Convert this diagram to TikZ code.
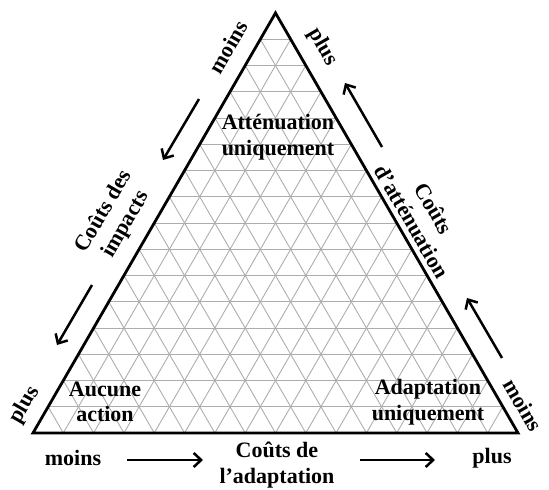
\documentclass[tikz,border=0pt]{standalone}
\usepackage{fontspec}
\setmainfont{Liberation Serif}
\usetikzlibrary{calc,arrows.meta}
\begin{document}
\begin{tikzpicture}[x=1pt,y=1pt,
  lbl/.style={font=\fontsize{22}{25.5}\selectfont\bfseries, align=center, inner sep=0pt},
  edgeline/.style={line width=2.8pt, line join=miter},
  gridline/.style={draw=black!32, line width=0.9pt},
  arr/.style={line width=2.5pt, -{Straight Barb[length=7.5pt,width=14pt]}}]
\useasboundingbox (0,0) rectangle (549,490);
\coordinate (A) at (33,57);
\coordinate (B) at (518,57);
\coordinate (C) at (275.5,477);
\foreach \i in {1,...,15}{
  \draw[gridline] ($(A)!\i/16!(C)$) -- ($(B)!\i/16!(C)$);
  \draw[gridline] ($(A)!\i/16!(B)$) -- ($(C)!\i/16!(B)$);
  \draw[gridline] ($(A)!\i/16!(B)$) -- ($(A)!\i/16!(C)$);
}
\draw[edgeline] (A) -- (B) -- (C) -- cycle;

% inner labels
\node[lbl] (att) at (278,353) {Atténuation\\uniquement};
\node[lbl] (auc) at (105,88) {Aucune\\action};
\node[lbl] (ada) at (428,88) {Adaptation\\uniquement};

% left side
\node[lbl, rotate=60] (moinsTL) at (228,443) {moins};
\node[lbl, rotate=60] (impacts) at (115,272) {Coûts des\\impacts};
\node[lbl, rotate=60] (plusL) at (25,85) {plus};
\coordinate (l1s) at (199,391); \coordinate (l1e) at (163,330);
\coordinate (l2s) at (92,205);  \coordinate (l2e) at (57,145);
\draw[arr] (l1s) -- (l1e);
\draw[arr] (l2s) -- (l2e);

% right side
\node[lbl, rotate=-60] (plusTR) at (323,443) {plus};
\node[lbl, rotate=-60] (attcost) at (423,275) {Coûts\\d’atténuation};
\node[lbl, rotate=-60] (moinsR) at (523,85) {moins};
\coordinate (r1s) at (382,343); \coordinate (r1e) at (345,407);
\coordinate (r2s) at (502,132); \coordinate (r2e) at (467,192);
\draw[arr] (r1s) -- (r1e);
\draw[arr] (r2s) -- (r2e);

% bottom
\node[lbl] (moinsB) at (73,32) {moins};
\node[lbl] (adacost) at (277,25) {Coûts de\\l’adaptation};
\node[lbl] (plusB) at (492,32) {plus};
\coordinate (b1s) at (127,30); \coordinate (b1e) at (203,30);
\coordinate (b2s) at (360,30); \coordinate (b2e) at (435,30);
\draw[arr] (b1s) -- (b1e);
\draw[arr] (b2s) -- (b2e);
\end{tikzpicture}
\end{document}
